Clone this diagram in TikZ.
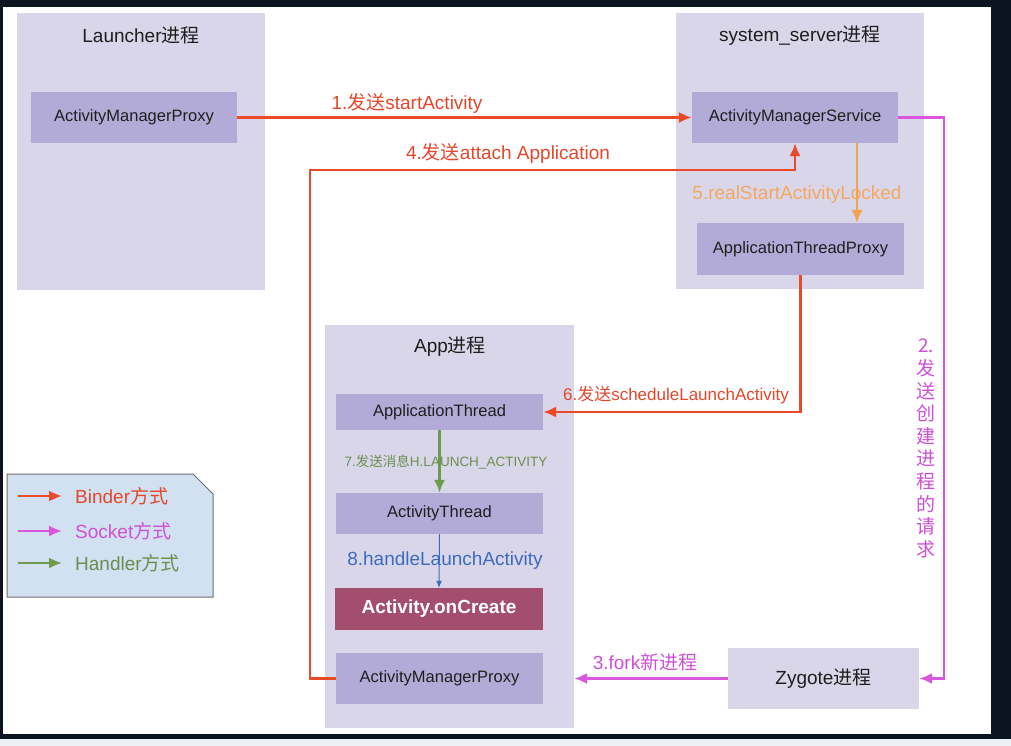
\documentclass[tikz,border=0pt]{standalone}
\usepackage{fontspec}
\setmainfont{Liberation Sans}
\newfontfamily\cjk{Noto Sans CJK SC}
\newcommand{\zh}[1]{{\cjk #1}}
\usetikzlibrary{arrows.meta}
\definecolor{outerbox}{HTML}{DAD6E9}
\definecolor{innerbox}{HTML}{B3ABD7}
\definecolor{binder}{HTML}{EA4A2A}
\definecolor{bindertxt}{HTML}{E4472C}
\definecolor{socket}{HTML}{D957DC}
\definecolor{sockettxt}{HTML}{CF50D8}
\definecolor{handler}{HTML}{6E9A4E}
\definecolor{handlertxt}{HTML}{6A8E50}
\definecolor{orangec}{HTML}{F0A452}
\definecolor{orangetxt}{HTML}{F2A860}
\definecolor{bluec}{HTML}{3C6BBE}
\definecolor{createc}{HTML}{A34E6F}
\definecolor{legendfill}{HTML}{D2E1F1}
\definecolor{legendline}{HTML}{6E6E6E}
\definecolor{framec}{HTML}{0C1422}
\definecolor{stripc}{HTML}{EDF1F6}
\definecolor{txt}{HTML}{1E1E1E}
\begin{document}
\begin{tikzpicture}[x=1pt,y=-1pt,
  outer/.style={fill=outerbox, draw=none, inner sep=0pt},
  inner/.style={fill=innerbox, draw=none, text=txt, font=\fontsize{16.5}{19}\selectfont, inner sep=0pt},
  title/.style={text=txt, font=\fontsize{19}{22}\selectfont, inner sep=0pt},
  lbl/.style={font=\fontsize{19}{22}\selectfont, inner sep=0pt},
  tip/.style={-{Latex[length=13pt,width=11pt]}},
  binderline/.style={draw=binder, line width=2.2pt, tip},
  socketline/.style={draw=socket, line width=2.2pt, tip},
  handlerline/.style={draw=handler, line width=2.2pt, tip},
  orangeline/.style={draw=orangec, line width=2.2pt, tip},
  blueline/.style={draw=bluec, line width=1pt, -{Latex[length=7pt,width=6pt]}},
]
% frame of the screenshot
\useasboundingbox (0,0) rectangle (1011,746);
\fill[framec] (0,0) rectangle (1011,746);
\fill[stripc] (0,739) rectangle (1011,746);
\fill[white] (3,7) rectangle (991,734);

% process boxes
\node[outer, minimum width=248pt, minimum height=277pt] (launcher) at (141,151.5) {};
\node[title] (tlauncher) at (141,35) {Launcher\zh{进程}};
\node[inner, minimum width=206pt, minimum height=51pt] (lamp) at (134,117.5) {ActivityManagerProxy};

\node[outer, minimum width=248pt, minimum height=276pt] (sysserver) at (800,151) {};
\node[title] (tsys) at (800,36) {system\_server\zh{进程}};
\node[inner, minimum width=206pt, minimum height=51pt] (ams) at (795,117.5) {ActivityManagerService};
\node[inner, minimum width=207pt, minimum height=52pt] (atp) at (800.5,249) {ApplicationThreadProxy};

\node[outer, minimum width=249pt, minimum height=403pt] (app) at (449.5,526.5) {};
\node[title] (tapp) at (450,347) {App\zh{进程}};
\node[inner, minimum width=207pt, minimum height=36pt] (at) at (439.5,412) {ApplicationThread};
\node[inner, minimum width=207pt, minimum height=41pt] (actt) at (439.5,513.5) {ActivityThread};
\node[fill=createc, text=white, inner sep=0pt, minimum width=208pt, minimum height=42pt,
      font=\fontsize{19}{22}\selectfont\bfseries] (oncreate) at (439,609) {Activity.onCreate};
\node[inner, minimum width=207pt, minimum height=51pt] (aamp) at (439.5,678.5) {ActivityManagerProxy};

\node[outer, text=txt, font=\fontsize{19}{22}\selectfont, minimum width=191pt, minimum height=61pt] (zygote) at (823.5,678.5) {Zygote\zh{进程}};

% 1. startActivity
\draw[binderline] (lamp.east) -- (ams.west);
\node[lbl, text=bindertxt] (l1) at (407,103) {1.\zh{发送}startActivity};

% 4. attach Application
\coordinate (c4) at (310,170);
\draw[binderline] (aamp.west) -| (c4) -- (ams.south |- c4) -- (ams.south);
\node[lbl, text=bindertxt] (l4) at (508,153) {4.\zh{发送}attach Application};

% 5. realStartActivityLocked
\coordinate (c5) at (857,143);
\draw[orangeline] (c5) -- (c5 |- atp.north);
\node[lbl, text=orangetxt] (l5) at (797,195) {5.realStartActivityLocked};

% 6. scheduleLaunchActivity
\draw[binderline] (atp.south) |- (at.east);
\node[font=\fontsize{17}{20}\selectfont, inner sep=0pt, text=bindertxt] (l6) at (676,395) {6.\zh{发送}scheduleLaunchActivity};

% 7. Handler message
\draw[handlerline] (at.south) -- (actt.north);
\node[font=\fontsize{13.5}{16}\selectfont, inner sep=0pt, text=handlertxt] (l7) at (446,462) {7.\zh{发送消息}H.LAUNCH\_ACTIVITY};

% 8. handleLaunchActivity
\draw[blueline] (actt.south) -- (oncreate.north);
\node[lbl, text=bluec] (l8) at (445,561) {8.handleLaunchActivity};

% 2. socket request to zygote
\coordinate (c2) at (944,117.5);
\draw[socketline] (ams.east) -- (c2) |- (zygote.east);
\node[font=\cjk\fontsize{19}{22.6}\selectfont, align=center, inner sep=0pt, text=sockettxt] (l2) at (926,448.5)
  {2.\\发\\送\\创\\建\\进\\程\\的\\请\\求};

% 3. fork
\draw[socketline] (zygote.west) -- (app.east |- zygote.west);
\node[lbl, text=sockettxt] (l3) at (645,662) {3.fork\zh{新进程}};

% legend
\draw[fill=legendfill, draw=legendline, line width=1pt] (7,474) -- (193,474) -- (213,494) -- (213,597) -- (7,597) -- cycle;
\coordinate (lb1) at (18,496); \coordinate (lb2) at (62,496);
\coordinate (ls1) at (18,531); \coordinate (ls2) at (62,531);
\coordinate (lh1) at (18,563); \coordinate (lh2) at (62,563);
\draw[binderline] (lb1) -- (lb2);
\draw[socketline] (ls1) -- (ls2);
\draw[handlerline] (lh1) -- (lh2);
\node[lbl, anchor=west, text=bindertxt] (tb) at (75,496) {Binder\zh{方式}};
\node[lbl, anchor=west, text=sockettxt] (ts) at (75,531) {Socket\zh{方式}};
\node[lbl, anchor=west, text=handlertxt] (th) at (75,563) {Handler\zh{方式}};
\end{tikzpicture}
\end{document}
